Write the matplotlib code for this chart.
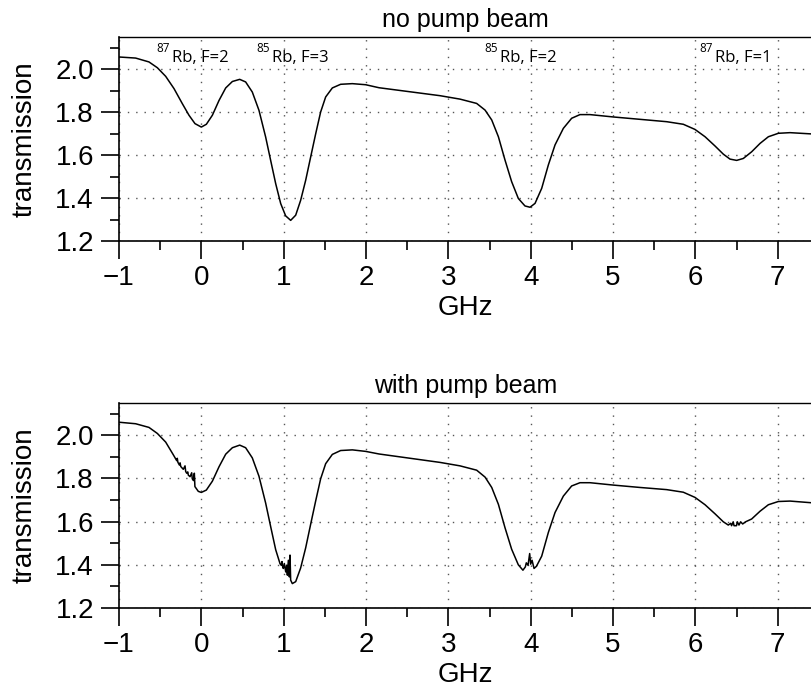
import matplotlib
matplotlib.use("Agg")
import matplotlib.pyplot as plt
from matplotlib.ticker import FixedLocator, FuncFormatter
import matplotlib.transforms as mtransforms

# ---------------- data ----------------
freq_top = [-1.0, -0.798, -0.636, -0.534, -0.433, -0.332, -0.231, -0.150, -0.077, 0.0,
            0.061, 0.134, 0.215, 0.296, 0.377, 0.466, 0.538, 0.619, 0.700, 0.781,
            0.842, 0.903, 0.964, 1.024, 1.085, 1.146, 1.206, 1.267, 1.328, 1.389,
            1.449, 1.510, 1.591, 1.692, 1.834, 1.996, 2.158, 2.899, 3.142, 3.344,
            3.446, 3.527, 3.608, 3.688, 3.769, 3.850, 3.931, 3.992, 4.053, 4.134,
            4.215, 4.296, 4.397, 4.498, 4.599, 4.721, 5.004, 5.328, 5.652, 5.854,
            5.996, 6.118, 6.239, 6.340, 6.421, 6.502, 6.583, 6.684, 6.786, 6.887,
            7.008, 7.150, 7.417]
trans_top = [2.056, 2.051, 2.033, 2.006, 1.966, 1.909, 1.839, 1.785, 1.746, 1.730,
             1.743, 1.785, 1.854, 1.912, 1.942, 1.952, 1.940, 1.893, 1.808, 1.684,
             1.575, 1.467, 1.374, 1.317, 1.296, 1.320, 1.389, 1.482, 1.591, 1.699,
             1.800, 1.870, 1.912, 1.929, 1.932, 1.927, 1.913, 1.876, 1.860, 1.840,
             1.809, 1.763, 1.685, 1.577, 1.476, 1.398, 1.363, 1.357, 1.375, 1.445,
             1.554, 1.647, 1.724, 1.771, 1.788, 1.788, 1.777, 1.766, 1.755, 1.743,
             1.719, 1.685, 1.642, 1.604, 1.581, 1.575, 1.584, 1.615, 1.654, 1.685,
             1.701, 1.704, 1.698]

freq_bot = [-1.0, -0.798, -0.636, -0.534, -0.433, -0.340, -0.299, -0.292, -0.285,
            -0.267, -0.258, -0.250, -0.219, -0.198, -0.190, -0.178, -0.165, -0.158,
            -0.137, -0.117, -0.110, -0.095, -0.085, -0.078, -0.037, 0.0, 0.061,
            0.134, 0.215, 0.296, 0.377, 0.466, 0.538, 0.619, 0.700, 0.781, 0.842,
            0.903, 0.956, 0.970, 0.980, 0.988, 0.996, 1.008, 1.025, 1.037, 1.045,
            1.057, 1.069, 1.077, 1.085, 1.105, 1.146, 1.206, 1.267, 1.328, 1.389,
            1.449, 1.510, 1.591, 1.692, 1.834, 1.996, 2.158, 2.899, 3.142, 3.344,
            3.446, 3.527, 3.608, 3.688, 3.769, 3.850, 3.906, 3.935, 3.947, 3.968,
            3.988, 4.0, 4.017, 4.041, 4.070, 4.134, 4.215, 4.296, 4.397, 4.498,
            4.599, 4.721, 5.004, 5.328, 5.652, 5.854, 5.996, 6.118, 6.239, 6.34,
            6.40, 6.43, 6.44, 6.46, 6.47, 6.50, 6.51, 6.53, 6.55, 6.575, 6.61,
            6.684, 6.786, 6.887, 7.008, 7.150, 7.417]
trans_bot = [2.060, 2.053, 2.036, 2.008, 1.968, 1.909, 1.882, 1.893, 1.875,
             1.862, 1.872, 1.855, 1.842, 1.858, 1.832, 1.824, 1.830, 1.815,
             1.808, 1.826, 1.798, 1.790, 1.824, 1.762, 1.740, 1.735, 1.746,
             1.787, 1.854, 1.912, 1.942, 1.954, 1.942, 1.895, 1.810, 1.686, 1.577,
             1.470, 1.405, 1.398, 1.415, 1.390, 1.383, 1.406, 1.367, 1.398, 1.352,
             1.421, 1.344, 1.445, 1.329, 1.313, 1.322, 1.385, 1.478, 1.588, 1.696,
             1.798, 1.868, 1.911, 1.929, 1.932, 1.925, 1.913, 1.874, 1.858, 1.838,
             1.806, 1.758, 1.680, 1.572, 1.472, 1.400, 1.375, 1.390, 1.409, 1.398,
             1.452, 1.403, 1.421, 1.383, 1.393, 1.440, 1.550, 1.642, 1.718, 1.765,
             1.780, 1.780, 1.769, 1.758, 1.748, 1.736, 1.712, 1.678, 1.636, 1.599,
             1.584, 1.592, 1.581, 1.599, 1.581, 1.581, 1.599, 1.584, 1.599, 1.589, 1.599,
             1.612, 1.648, 1.678, 1.693, 1.695, 1.687]

label_isotopes = ["87", "85", "85", "87"]
label_texts = ["Rb, F=2", "Rb, F=3", "Rb, F=2", "Rb, F=1"]
label_freqs = [-0.36, 0.855, 3.627, 6.239]

titles = ["no pump beam", "with pump beam"]
x_ticks = [-1, 0, 1, 2, 3, 4, 5, 6, 7]
y_ticks = [1.2, 1.4, 1.6, 1.8, 2.0]

# ---------------- figure ----------------
plt.rcParams['font.family'] = ['Liberation Sans', 'DejaVu Sans']
fig = plt.figure(figsize=(8.12, 6.94), dpi=100)

W, H = 812.0, 694.0
ax_left = 119 / W
ax_width = 1.0 - ax_left
axes = [
    fig.add_axes([ax_left, 1 - 241 / H, ax_width, (241 - 37) / H]),
    fig.add_axes([ax_left, 1 - 608 / H, ax_width, (608 - 403) / H]),
]

series = [(freq_top, trans_top), (freq_bot, trans_bot)]

def fmt_x(v, pos):
    return f"{int(round(v))}".replace("-", "\u2212")

for i, ax in enumerate(axes):
    xs, ys = series[i]
    ax.plot(xs, ys, color='black', lw=1.1, solid_joinstyle='round')
    ax.set_xlim(-1, 7.417)
    ax.set_ylim(1.2, 2.149)
    ax.xaxis.set_major_locator(FixedLocator(x_ticks))
    ax.xaxis.set_minor_locator(FixedLocator([t + 0.5 for t in x_ticks[:-1]]))
    ax.xaxis.set_major_formatter(FuncFormatter(fmt_x))
    ax.yaxis.set_major_locator(FixedLocator(y_ticks))
    ax.yaxis.set_minor_locator(FixedLocator([1.3, 1.5, 1.7, 1.9, 2.1]))
    ax.yaxis.set_major_formatter(FuncFormatter(lambda v, p: f"{v:.1f}"))
    ax.tick_params(which='major', direction='out', length=13, width=1.2,
                   labelsize=20, pad=4, top=False, right=False)
    ax.tick_params(which='minor', direction='out', length=6.5, width=1.2,
                   top=False, right=False)
    ax.tick_params(axis='y', which='major', pad=5)
    for sp in ['left', 'bottom']:
        ax.spines[sp].set_linewidth(1.2)
    ax.spines['top'].set_linewidth(1.0)
    ax.spines['right'].set_visible(False)
    ax.grid(True, which='major', color='#555555', linestyle=(0, (1, 5)), lw=1.0)
    ax.set_axisbelow(True)
    ax.set_xlabel("GHz", fontsize=20, labelpad=3)
    ax.set_ylabel("transmission", fontsize=20, labelpad=13)
    ax.set_title(titles[i], fontsize=18, pad=7)

# isotope labels on top panel
ax = axes[0]
trans = mtransforms.blended_transform_factory(ax.transData, ax.transAxes)
for iso, txt, xf in zip(label_isotopes, label_texts, label_freqs):
    ax.text(xf, 0.877, txt, transform=trans, ha='left', va='baseline',
            fontsize=12, family=['Open Sans', 'DejaVu Sans'])
    ax.annotate(iso, xy=(xf, 0.877), xycoords=trans, xytext=(-1.5, 7.5),
                textcoords='offset points', ha='right', va='baseline',
                fontsize=8.5, family=['Open Sans', 'DejaVu Sans'])

fig.savefig("out.png", dpi=100)
